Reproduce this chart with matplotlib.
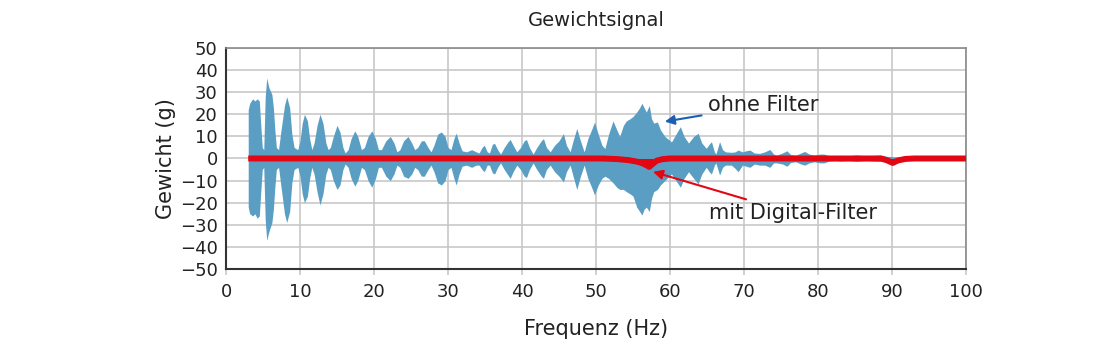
import matplotlib
matplotlib.use('Agg')
import matplotlib.pyplot as plt
import numpy as np

# envelope of the raw signal (ohne Filter)
freq = [3.0, 3.2, 3.6, 3.9, 4.2, 4.5, 4.7, 4.9, 5.1, 5.3, 5.5, 5.8, 6.2, 6.4, 6.6, 6.8, 7.1,
        7.4, 7.9, 8.2, 8.6, 8.9, 9.2, 9.7, 10.0, 10.3, 10.6, 11.0, 11.3, 11.6, 11.9, 12.3, 12.7, 13.1, 13.5, 13.8,
        14.1, 14.5, 15.0, 15.4, 15.8, 16.1, 16.5, 16.9, 17.4, 17.8, 18.3, 18.7, 19.2, 19.7, 20.2, 20.6, 21.0, 21.6, 22.2, 22.7, 23.1,
        23.5, 24.0, 24.6, 25.1, 25.5, 25.9, 26.4, 26.8, 27.3, 27.7, 28.1, 28.6, 29.1, 29.6, 30.0, 30.4, 30.8, 31.1, 31.5, 31.9,
        32.5, 33.2, 33.8, 34.2, 34.6, 34.9, 35.3, 35.6, 36.0, 36.3, 36.7, 37.1, 37.6, 38.1, 38.4, 38.8, 39.3,
        39.8, 40.3, 40.6, 41.0, 41.5, 42.0, 42.6, 42.9, 43.3, 43.8, 44.4, 45.0, 45.6, 46.0, 46.5, 46.9, 47.4, 47.9, 48.4,
        48.9, 49.4, 49.8, 50.3, 50.8, 51.2, 51.7, 52.3, 52.8, 53.2, 53.7, 54.1, 54.6, 55.0, 55.5, 55.9, 56.2, 56.5, 56.8, 57.2, 57.5, 57.8, 58.3, 58.7,
        59.3, 60.2, 60.8, 61.4, 61.9, 62.5, 63.2, 63.8, 64.3, 64.9, 65.3, 65.6, 66.0, 66.2, 66.7, 67.1, 67.5, 68.3, 68.8, 69.2,
        69.8, 70.3, 70.8, 71.4, 72.1, 72.8, 73.5, 74.0, 74.4, 75.2, 75.8, 76.3, 77.0, 77.7, 78.2, 78.8, 79.5, 80.3, 80.8, 81.5,
        82.3, 83.0, 84.0, 85.2, 86.5, 87.5, 88.4, 89.3, 91.0, 100.0]
upper = [22, 25, 27, 26, 27, 26, 15, 5, 4, 28, 36.5, 32, 29, 23, 13, 5, 4,
         12, 24, 28, 23, 11, 5, 4, 8, 16, 20, 17, 9, 4, 7, 15, 20, 16, 7, 4,
         5, 10, 15, 12, 5, 2.5, 4, 9, 12.5, 10, 4, 5, 10, 12.5, 9, 4, 4, 8, 10, 7, 3,
         4, 8, 10, 7, 4, 5, 8, 8, 5, 3, 6, 11, 12, 10, 5, 4, 9, 11.5, 7, 3.5,
         3, 4, 3, 2.5, 5, 6, 3, 2.5, 6.5, 6.8, 4, 2, 5, 7.5, 8.6, 6, 3,
         5, 8, 8.6, 5, 2, 5, 8, 9, 5, 3, 6, 8, 11.3, 6, 3, 8, 13.6, 8, 3,
         9, 13, 16.5, 11, 6, 4.5, 11, 17, 13, 10, 15, 17, 18, 19, 21, 23, 25, 23, 21, 24, 18, 16, 16.5, 13,
         10, 7.5, 11, 14.4, 10, 7, 10, 11.4, 7, 4.6, 6.5, 7.6, 3, 2, 7.6, 4, 3, 2.8, 3, 3.8,
         3, 3.5, 3.8, 2.5, 2.3, 3, 4.1, 2, 1.5, 2.5, 3.5, 1.8, 1.5, 2.5, 3.2, 2, 1.6, 2, 2, 1.3,
         1.2, 1.4, 1.2, 1.6, 1.2, 1.4, 1.6, 1.0, 0.6, 0.6]
lower = [-22, -25, -26, -25, -27, -26, -15, -5, -4, -28, -37, -33, -29, -23, -13, -5, -4,
         -12, -25, -29, -24, -11, -5, -4, -8, -16, -20, -17, -9, -4, -7, -15, -21, -16, -7, -4,
         -5, -10, -14, -12, -5, -2.5, -4, -9, -12.5, -10, -4, -5, -10, -13, -9, -4, -4, -8, -10, -7, -3,
         -4, -8, -9, -7, -4, -5, -8, -8, -5, -3, -6, -11, -12, -10, -5, -4, -9, -12, -7, -3.5,
         -3, -4, -3, -3, -5, -6, -3, -3, -6.5, -7, -4, -2, -5, -7.5, -9, -6, -3,
         -5, -8, -8.6, -5, -2, -5, -8, -9, -5, -3, -6, -8, -10.6, -6, -3, -8, -14, -8, -3,
         -9, -13, -16.5, -12, -9, -8, -9, -11, -13, -14, -14, -15, -16, -17, -22, -24, -25.6, -23, -22, -24, -18, -15, -14, -12,
         -10, -7, -10, -13, -9, -6, -9, -11.5, -7, -4, -6, -7, -3, -2, -7.5, -4, -3, -3, -4.5, -6,
         -3, -3.5, -4, -2.5, -3, -3, -4, -2, -2, -2.5, -3.5, -1.8, -1.5, -2.5, -3, -2, -1.5, -2, -2, -1.2,
         -1, -1.2, -1, -1.3, -1, -1.2, -1.3, -0.8, -0.6, -0.6]

# filtered signal (mit Digital-Filter)
freq_filt = [3.0, 51.0, 53.0, 54.5, 55.5, 56.3, 56.9, 57.2, 57.6, 58.2, 59.0, 60.0,
             88.5, 89.3, 90.1, 90.8, 91.8, 93.0, 100.0]
filt = [0, 0, -0.3, -0.8, -1.4, -2.2, -3.2, -3.8, -2.6, -1.0, -0.3, 0,
        0, -0.8, -2.0, -0.9, -0.2, 0, 0]

blue = '#5b9ec4'
red = '#e30613'

fig = plt.figure(figsize=(11.2, 3.55), dpi=100)
ax = fig.add_axes([0.2018, 0.2423, 0.6607, 0.6225])

ax.fill_between(freq, lower, upper, color=blue, linewidth=0, zorder=2)
ax.fill_between(freq_filt, filt, 0, color=red, linewidth=0, zorder=3)
ax.plot(freq_filt, filt, color=red, linewidth=4.3, solid_capstyle='butt', zorder=4)

ax.set_xlim(0, 100)
ax.set_ylim(-50, 50)
ax.set_xticks(np.arange(0, 101, 10))
ax.set_yticks(np.arange(-50, 51, 10))
ax.grid(True, color='#c8c8c8', linewidth=1.2)
ax.set_axisbelow(True)

for s in ['top', 'right']:
    ax.spines[s].set_color('#8a8a8a')
    ax.spines[s].set_linewidth(1.2)
for s in ['left', 'bottom']:
    ax.spines[s].set_color('#333333')
    ax.spines[s].set_linewidth(1.5)

ax.tick_params(axis='x', length=4, width=1.2, labelsize=13, pad=6, color='#c8c8c8', labelcolor='#222222')
ax.tick_params(axis='y', length=0, labelsize=13, pad=6, labelcolor='#222222')

ax.set_title('Gewichtsignal', fontsize=14, color='#222222', pad=16)
ax.set_xlabel('Frequenz (Hz)', fontsize=15, color='#222222', labelpad=13)
ax.set_ylabel('Gewicht (g)', fontsize=15, color='#222222', labelpad=3)

ax.annotate('ohne Filter', xy=(59.3, 16.7), xytext=(65.2, 24.2),
            fontsize=15, color='#222222', va='center', ha='left',
            arrowprops=dict(arrowstyle='-|>', color='#1a5fb4', lw=1.5,
                            mutation_scale=14, shrinkA=3, shrinkB=0))
ax.annotate('mit Digital-Filter', xy=(57.7, -6.0), xytext=(65.3, -24.8),
            fontsize=15, color='#222222', va='center', ha='left',
            arrowprops=dict(arrowstyle='-|>', color=red, lw=1.5,
                            mutation_scale=14, shrinkA=3, shrinkB=0))

plt.savefig('out.png', dpi=100)
